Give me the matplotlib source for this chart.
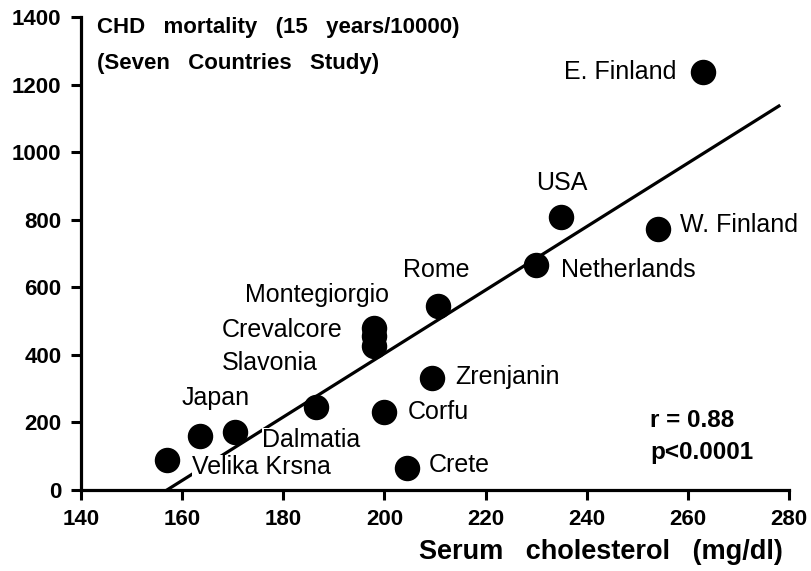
import matplotlib
matplotlib.use("Agg")
import matplotlib.pyplot as plt

plt.rcParams['font.family'] = ['Liberation Sans', 'DejaVu Sans']

# Seven Countries Study: serum cholesterol vs CHD mortality
countries = ['E. Finland', 'USA', 'W. Finland', 'Netherlands', 'Rome',
             'Montegiorgio', 'Crevalcore', 'Slavonia', 'Zrenjanin', 'Corfu',
             'Dalmatia', 'Japan', 'Velika Krsna', 'Crete', 'Other']
cholesterol = [263, 235, 254, 230, 210.5, 198, 198, 198, 209.5, 200,
               170.5, 163.5, 157, 204.5, 186.5]
mortality = [1238, 808, 774, 665, 545, 480, 455, 425, 333, 232,
             172, 160, 90, 65, 245]

# fitted line end points (x, y)
fit_x = [157, 278]
fit_y = [0, 1137]

# label anchors: (x, y, ha)
labels = [
    ('E. Finland', 257.7, 1238, 'right'),
    ('USA', 235, 908, 'center'),
    ('W. Finland', 258.4, 784, 'left'),
    ('Netherlands', 235, 651, 'left'),
    ('Rome', 210.2, 651, 'center'),
    ('Montegiorgio', 186.7, 577, 'center'),
    ('Crevalcore', 179.7, 475, 'center'),
    ('Slavonia', 177.3, 377, 'center'),
    ('Zrenjanin', 214, 335, 'left'),
    ('Corfu', 204.7, 232, 'left'),
    ('Dalmatia', 175.7, 148, 'left'),
    ('Japan', 166.6, 271, 'center'),
    ('Velika Krsna', 161.9, 69, 'left'),
    ('Crete', 208.7, 74, 'left'),
]

fig = plt.figure(figsize=(8.11, 5.71), dpi=100)
ax = fig.add_axes([0.0999, 0.1419, 0.873, 0.828])

ax.plot(fit_x, fit_y, color='black', lw=2.3, zorder=1)
ax.scatter(cholesterol, mortality, s=300, color='black', zorder=4)

for name, x, y, ha in labels:
    ax.text(x, y, name, ha=ha, va='center', fontsize=18, zorder=3,
            bbox=dict(facecolor='white', edgecolor='none', pad=0))

ax.text(252.5, 207, 'r = 0.88', fontsize=17.5, fontweight='bold', va='center')
ax.text(252.5, 110, 'p<0.0001', fontsize=17.5, fontweight='bold', va='center')

ax.text(0.022, 1.0, 'CHD   mortality   (15   years/10000)',
        transform=ax.transAxes, fontsize=16, fontweight='bold', va='top')
ax.text(0.022, 0.925, '(Seven   Countries   Study)',
        transform=ax.transAxes, fontsize=16, fontweight='bold', va='top')

ax.set_xlim(140, 280)
ax.set_ylim(0, 1400)
ax.set_xticks(range(140, 281, 20))
ax.set_yticks(range(0, 1401, 200))
ax.text(0.9915, -0.131, 'Serum   cholesterol   (mg/dl)', transform=ax.transAxes,
        fontsize=19.5, fontweight='bold', ha='right', va='center')

for s in ['top', 'right']:
    ax.spines[s].set_visible(False)
for s in ['left', 'bottom']:
    ax.spines[s].set_linewidth(2.3)
ax.tick_params(direction='out', length=7, width=2.2, labelsize=16, pad=7)
for lab in ax.get_xticklabels() + ax.get_yticklabels():
    lab.set_fontweight('bold')

fig.savefig('out.png', dpi=100)
